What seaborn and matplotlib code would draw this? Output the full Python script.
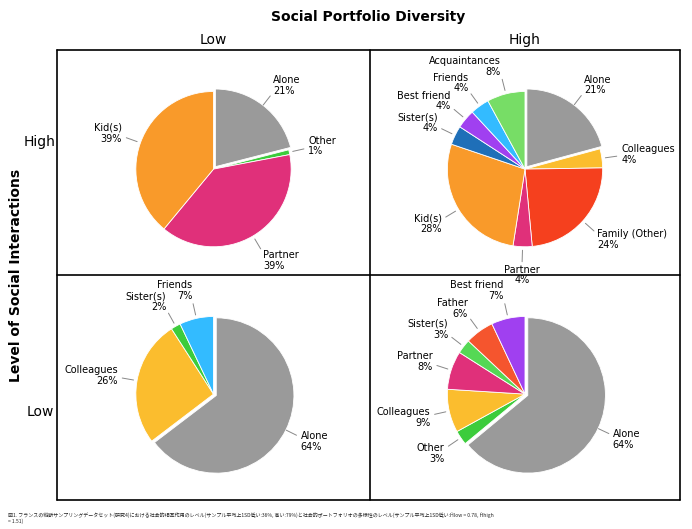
import numpy as np
import matplotlib.pyplot as plt
import seaborn as sns

sns.set_theme(style="white")
plt.rcParams['font.family'] = ['DejaVu Sans', 'Noto Sans CJK JP']

GRAY = "#9a9a9a"; GREEN = "#3ccc3c"; PINK = "#e0307a"; ORANGE = "#f99a2a"
YELLOW = "#fbbd2e"; RED = "#f5401e"; BLUE = "#1f6fb8"; PURPLE = "#a040f0"
LBLUE = "#33bbff"; LGREEN = "#77dd66"; RED2 = "#f5552e"; GREEN2 = "#55d855"

# (row, col): High/Low interactions x Low/High diversity
hl_labels = ["Alone", "Other", "Partner", "Kid(s)"]
hl_values = [21, 1, 39, 39]
hl_colors = [GRAY, GREEN, PINK, ORANGE]

hh_labels = ["Alone", "Colleagues", "Family (Other)", "Partner", "Kid(s)",
             "Sister(s)", "Best friend", "Friends", "Acquaintances"]
hh_values = [21, 4, 24, 4, 28, 4, 4, 4, 8]
hh_colors = [GRAY, YELLOW, RED, PINK, ORANGE, BLUE, PURPLE, LBLUE, LGREEN]

ll_labels = ["Alone", "Colleagues", "Sister(s)", "Friends"]
ll_values = [64, 26, 2, 7]
ll_colors = [GRAY, YELLOW, GREEN, LBLUE]

lh_labels = ["Alone", "Other", "Colleagues", "Partner", "Sister(s)", "Father", "Best friend"]
lh_values = [64, 3, 9, 8, 3, 6, 7]
lh_colors = [GRAY, GREEN, YELLOW, PINK, GREEN2, RED2, PURPLE]

fig = plt.figure(figsize=(6.92, 5.29), dpi=100)
L, R, B, T = 57/692, 680/692, 1 - 500/529, 1 - 50/529
MX, MY = 370/692, 1 - 275/529

def draw(rect, labels, values, colors):
    ax = fig.add_axes(rect)
    wedges, _ = ax.pie(values, colors=colors, startangle=90, counterclock=False,
                       radius=0.88, explode=[0.035] + [0] * (len(values) - 1),
                       wedgeprops=dict(edgecolor="white", linewidth=0.6))
    for w, lab, v in zip(wedges, labels, values):
        ang = np.deg2rad((w.theta1 + w.theta2) / 2)
        c, s = np.cos(ang), np.sin(ang)
        ax.plot([0.92 * c, 1.05 * c], [0.92 * s, 1.05 * s], color="#888", lw=0.7)
        ha = "left" if c > 0.2 else ("right" if c < -0.2 else "center")
        ax.text(1.1 * c, 1.2 * s, f"{lab}\n{v}%", ha=ha, va="center", fontsize=7,
                linespacing=1.1, color="black")
    ax.set_xlim(-1.75, 1.75); ax.set_ylim(-1.2, 1.35)
    ax.set_aspect("equal"); ax.axis("off")

draw([L, MY, MX - L, T - MY], hl_labels, hl_values, hl_colors)
draw([MX, MY, R - MX, T - MY], hh_labels, hh_values, hh_colors)
draw([L, B, MX - L, MY - B], ll_labels, ll_values, ll_colors)
draw([MX, B, R - MX, MY - B], lh_labels, lh_values, lh_colors)

frame = fig.add_axes([0, 0, 1, 1], zorder=-1); frame.axis("off")
frame.set_xlim(0, 1); frame.set_ylim(0, 1)
for x in (L, MX, R):
    frame.plot([x, x], [B, T], color="black", lw=1.2)
for y in (B, MY, T):
    frame.plot([L, R], [y, y], color="black", lw=1.2)

fig.text((L + R) / 2, 1 - 17/529, "Social Portfolio Diversity", ha="center", va="center",
         fontsize=10, fontweight="bold", color="black")
fig.text((L + MX) / 2, 1 - 40/529, "Low", ha="center", va="center", fontsize=10, color="black")
fig.text((MX + R) / 2, 1 - 40/529, "High", ha="center", va="center", fontsize=10, color="black")
fig.text(40/692, 1 - 142/529, "High", ha="center", va="center", fontsize=10, color="black")
fig.text(40/692, 1 - 412/529, "Low", ha="center", va="center", fontsize=10, color="black")
fig.text(16/692, (B + T) / 2, "Level of Social Interactions", ha="center", va="center",
         rotation=90, fontsize=10, fontweight="bold", color="black")
fig.text(8/692, 1 - 512/529,
         "図1. フランスの縦断サンプリングデータセット(研究4)における社会的相互作用のレベル(サンプル平均上1SD低い:36%, 高い:79%)と社会的ポートフォリオの多様性のレベル(サンプル平均上1SD低い:Ĥlow = 0.78, Ĥhigh\n= 1.51)",
         ha="left", va="top", fontsize=3.6, family=['Noto Sans CJK JP', 'DejaVu Sans'])

fig.savefig("out.png", dpi=100)
